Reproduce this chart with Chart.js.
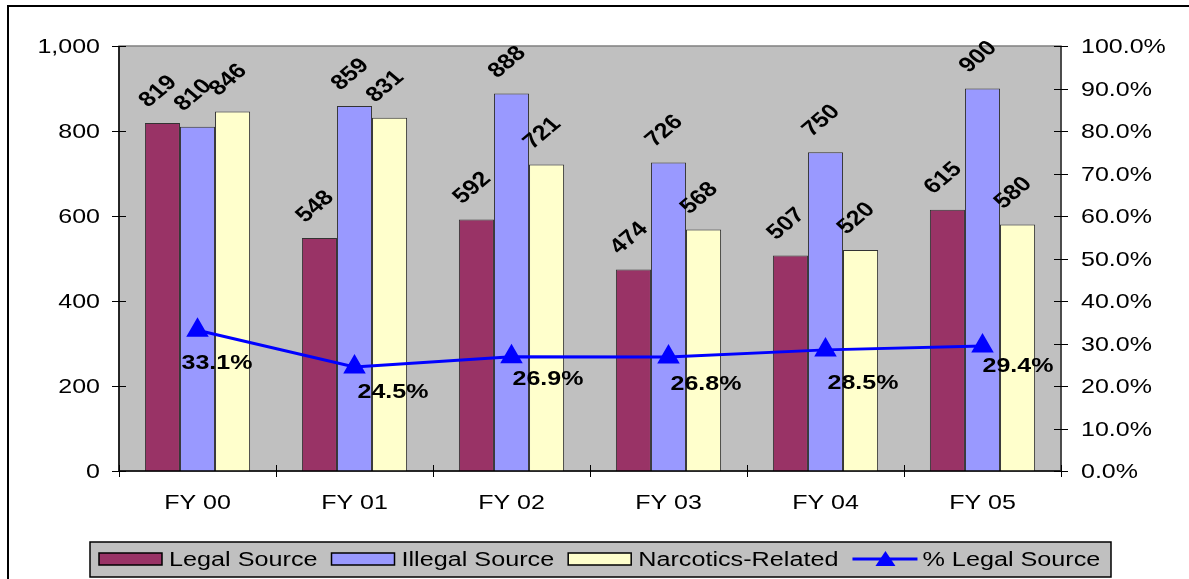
<!DOCTYPE html>
<html>
<head>
<meta charset="utf-8">
<script src="https://cdn.jsdelivr.net/npm/chart.js@4/dist/chart.umd.min.js"></script>
<style>
  body { margin: 0; background: #fff; }
  canvas { display: block; }
</style>
</head>
<body>
<canvas id="myChart" width="1189" height="579"></canvas>
<script>
// data
var categories = ["FY 00", "FY 01", "FY 02", "FY 03", "FY 04", "FY 05"];
var legalSource = [819, 548, 592, 474, 507, 615];
var illegalSource = [810, 859, 888, 726, 750, 900];
var narcoticsRelated = [846, 831, 721, 568, 520, 580];
var pctLegalSource = [33.1, 24.5, 26.9, 26.8, 28.5, 29.4];
var leftTicks = [0, 200, 400, 600, 800, 1000];
var rightTicks = [0, 10, 20, 30, 40, 50, 60, 70, 80, 90, 100];

// label nudges for the % labels (style, not data)
var pctNudgeX = [-16, 3, 1, 2, 2, 0];
var pctNudgeY = [33, 25, 23, 27, 33, 20];

var SX = 1.19; // the original text is stretched sideways
var FONT = '"Liberation Sans", Arial, sans-serif';

function sText(ctx, str, x, y, align, sx) {
    ctx.save();
    ctx.translate(x, y);
    ctx.scale(sx || SX, 1);
    ctx.textAlign = align;
    ctx.fillText(str, 0, 0);
    ctx.restore();
}

var decor = {
    id: 'decor',
    beforeDatasetsDraw: function (chart) {
        var ctx = chart.ctx, a = chart.chartArea;
        ctx.save();
        // outer frame (top + left only)
        ctx.strokeStyle = '#000';
        ctx.lineWidth = 2;
        ctx.beginPath();
        ctx.moveTo(8, 579); ctx.lineTo(8, 6); ctx.lineTo(1189, 6);
        ctx.stroke();
        // plot background
        ctx.fillStyle = '#C0C0C0';
        ctx.fillRect(a.left, a.top, a.right - a.left, a.bottom - a.top);
        ctx.strokeStyle = '#808080';
        ctx.lineWidth = 1.5;
        ctx.strokeRect(a.left, a.top, a.right - a.left, a.bottom - a.top);
        ctx.restore();
    },
    afterDatasetsDraw: function (chart) {
        var ctx = chart.ctx, a = chart.chartArea;
        var y = chart.scales.y, y1 = chart.scales.y1, x = chart.scales.x;
        ctx.save();
        // axis lines
        ctx.strokeStyle = '#000';
        ctx.lineWidth = 1.5;
        ctx.beginPath();
        ctx.moveTo(a.left, a.top); ctx.lineTo(a.left, a.bottom); ctx.lineTo(a.right, a.bottom);
        ctx.stroke();
        ctx.strokeStyle = '#333';
        ctx.beginPath();
        ctx.moveTo(a.right, a.top); ctx.lineTo(a.right, a.bottom);
        ctx.stroke();

        ctx.fillStyle = '#000';
        ctx.textBaseline = 'middle';
        ctx.font = '21px ' + FONT;
        ctx.strokeStyle = '#000';
        ctx.lineWidth = 1;
        // left axis ticks
        leftTicks.forEach(function (v) {
            var py = Math.round(y.getPixelForValue(v)) + 0.5;
            ctx.beginPath(); ctx.moveTo(a.left - 7, py); ctx.lineTo(a.left + 7, py); ctx.stroke();
            sText(ctx, v.toLocaleString('en-US'), 100, py + 1, 'right');
        });
        // right axis ticks
        rightTicks.forEach(function (v) {
            var py = Math.round(y1.getPixelForValue(v)) + 0.5;
            ctx.beginPath(); ctx.moveTo(a.right - 7, py); ctx.lineTo(a.right + 7, py); ctx.stroke();
            sText(ctx, v.toFixed(1) + '%', 1081, py + 1, 'left');
        });
        // category ticks + labels
        var cw = (a.right - a.left) / categories.length;
        for (var i = 0; i <= categories.length; i++) {
            var px = Math.round(a.left + i * cw) + 0.5;
            ctx.beginPath(); ctx.moveTo(px, a.bottom - 6); ctx.lineTo(px, a.bottom + 6); ctx.stroke();
        }
        categories.forEach(function (c, i) {
            sText(ctx, c, x.getPixelForValue(i), 503, 'center');
        });

        // bar value labels, rotated
        ctx.font = 'bold 21px ' + FONT;
        [0, 1, 2].forEach(function (d) {
            var meta = chart.getDatasetMeta(d);
            var vals = chart.data.datasets[d].data;
            meta.data.forEach(function (bar, i) {
                ctx.save();
                ctx.translate(bar.x - 19, bar.y - 19);
                ctx.scale(SX, 1);
                ctx.rotate(-Math.PI / 4);
                ctx.textAlign = 'left';
                ctx.textBaseline = 'middle';
                ctx.fillText(String(vals[i]), 0, 0);
                ctx.restore();
            });
        });
        // percentage labels
        var lm = chart.getDatasetMeta(3);
        lm.data.forEach(function (pt, i) {
            sText(ctx, pctLegalSource[i].toFixed(1) + '%', pt.x + pctNudgeX[i], pt.y + pctNudgeY[i], 'left');
        });
        ctx.restore();
    },
    afterDraw: function (chart) {
        // legend
        var ctx = chart.ctx;
        var lsx = 1.26;
        ctx.save();
        ctx.fillStyle = '#C0C0C0';
        ctx.fillRect(90, 542, 1021, 35);
        ctx.strokeStyle = '#000';
        ctx.lineWidth = 1.5;
        ctx.strokeRect(90, 542, 1021, 35);
        ctx.font = '20px ' + FONT;
        ctx.textBaseline = 'middle';
        var cx = 99, cy = 559;
        chart.data.datasets.forEach(function (ds, i) {
            if (ds.type === 'line') {
                ctx.strokeStyle = ds.borderColor;
                ctx.lineWidth = 3;
                ctx.beginPath(); ctx.moveTo(cx, cy); ctx.lineTo(cx + 65, cy); ctx.stroke();
                ctx.fillStyle = ds.borderColor;
                ctx.beginPath();
                ctx.moveTo(cx + 33, cy - 8); ctx.lineTo(cx + 43, cy + 7); ctx.lineTo(cx + 23, cy + 7);
                ctx.closePath(); ctx.fill();
            } else {
                ctx.fillStyle = ds.backgroundColor;
                ctx.fillRect(cx, cy - 6, 63, 12);
                ctx.strokeStyle = '#000';
                ctx.lineWidth = 1.5;
                ctx.strokeRect(cx, cy - 6, 63, 12);
            }
            cx += 70;
            ctx.fillStyle = '#000';
            sText(ctx, ds.label, cx, cy + 1, 'left', lsx);
            cx += ctx.measureText(ds.label).width * lsx + 14;
        });
        ctx.restore();
    }
};

var ctx = document.getElementById('myChart').getContext('2d');
var myChart = new Chart(ctx, {
    type: 'bar',
    data: {
        labels: categories,
        datasets: [{
            label: "Legal Source",
            data: legalSource,
            backgroundColor: "#993366",
            borderColor: "#333333",
            borderWidth: 1,
            yAxisID: 'y',
            order: 1
        }, {
            label: "Illegal Source",
            data: illegalSource,
            backgroundColor: "#9999FF",
            borderColor: "#333333",
            borderWidth: 1,
            yAxisID: 'y',
            order: 1
        }, {
            label: "Narcotics-Related",
            data: narcoticsRelated,
            backgroundColor: "#FFFFCC",
            borderColor: "#333333",
            borderWidth: 1,
            yAxisID: 'y',
            order: 1
        }, {
            type: 'line',
            label: "% Legal Source",
            data: pctLegalSource,
            borderColor: "#0000FF",
            backgroundColor: "#0000FF",
            borderWidth: 3,
            pointStyle: 'triangle',
            pointRadius: 10,
            pointHoverRadius: 10,
            yAxisID: 'y1',
            order: 0
        }]
    },
    options: {
        responsive: false,
        animation: false,
        events: [],
        datasets: { bar: { categoryPercentage: 0.67, barPercentage: 1.0 } },
        layout: { padding: { top: 46, left: 0, right: 0, bottom: 0 } },
        plugins: { legend: { display: false }, tooltip: { enabled: false } },
        scales: {
            x: {
                grid: { display: false },
                border: { display: false },
                ticks: { display: false },
                afterFit: function (s) { s.height = 108; }
            },
            y: {
                position: 'left',
                min: 0, max: 1000,
                ticks: { display: false, stepSize: 200 },
                grid: { display: false },
                border: { display: false },
                afterFit: function (s) { s.width = 119; }
            },
            y1: {
                position: 'right',
                min: 0, max: 100,
                ticks: { display: false, stepSize: 10 },
                grid: { display: false },
                border: { display: false },
                afterFit: function (s) { s.width = 128; }
            }
        }
    },
    plugins: [decor]
});
</script>
</body>
</html>
